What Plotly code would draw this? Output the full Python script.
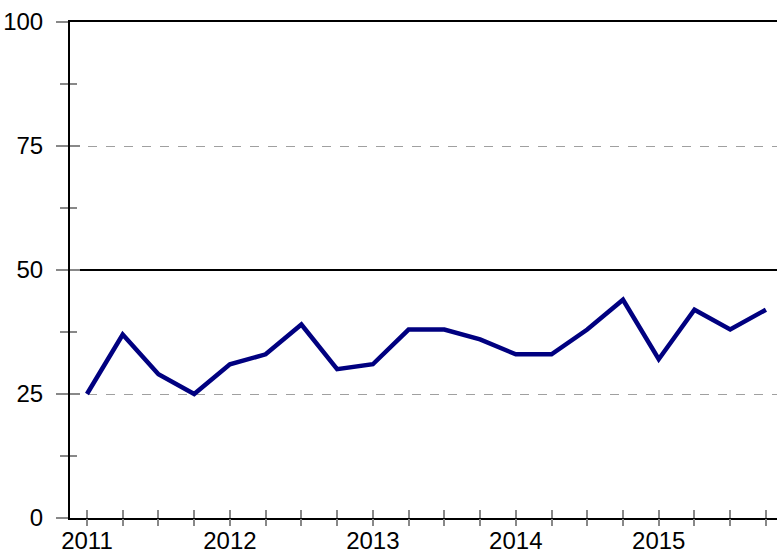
import plotly.graph_objects as go

quarters = list(range(20))
values = [25, 37, 29, 25, 31, 33, 39, 30, 31, 38, 38, 36, 33, 33, 38, 44, 32, 42, 38, 42]
year_labels = ["2011", "2012", "2013", "2014", "2015"]
tick_text = [year_labels[i // 4] if i % 4 == 0 else "" for i in quarters]

FONT = dict(family="Liberation Sans, Arial, sans-serif", size=24, color="black")
XR = [-0.475, 19.31]
YR = [0, 100]
TICKC = "#888888"

fig = go.Figure()
fig.add_trace(go.Scatter(x=quarters, y=values, mode="lines",
                         line=dict(color="#000080", width=4.5), xaxis="x", yaxis="y",
                         showlegend=False, hoverinfo="skip"))

fig.update_layout(
    width=777, height=556,
    margin=dict(l=70, r=0, t=22, b=38, autoexpand=False),
    plot_bgcolor="white", paper_bgcolor="white",
    font=FONT,
    xaxis=dict(range=XR, tickmode="array", tickvals=quarters, ticktext=tick_text,
               ticks="", showline=True, linecolor="black", linewidth=2, showgrid=False,
               zeroline=False, tickfont=FONT, automargin=False),
    xaxis2=dict(range=XR, overlaying="x", anchor="y", side="bottom",
                tickmode="array", tickvals=quarters, showticklabels=False,
                ticks="inside", ticklen=8, tickwidth=2, tickcolor=TICKC,
                showline=False, showgrid=False, zeroline=False, automargin=False),
    xaxis4=dict(range=XR, overlaying="x", anchor="y", side="bottom",
                tickmode="array", tickvals=quarters, showticklabels=False,
                ticks="outside", ticklen=7, tickwidth=2, tickcolor=TICKC,
                showline=False, showgrid=False, zeroline=False, automargin=False),
    xaxis3=dict(range=XR, overlaying="x", anchor="y", side="top",
                showticklabels=False, ticks="", showline=True, linecolor="black",
                linewidth=2, showgrid=False, zeroline=False, automargin=False),
    yaxis=dict(range=YR, tickmode="array", tickvals=[0, 25, 50, 75, 100],
               ticks="outside", ticklen=12, tickwidth=2, tickcolor=TICKC,
               minor=dict(tickmode="array", tickvals=[12.5, 37.5, 62.5, 87.5],
                          ticks="outside", ticklen=8, tickwidth=2, tickcolor=TICKC,
                          showgrid=False),
               showline=True, linecolor="black", linewidth=2,
               showgrid=True, gridcolor="#a0a0a0", griddash="dash", gridwidth=1,
               zeroline=False, tickfont=FONT, ticklabelstandoff=8, automargin=False),
    yaxis2=dict(range=YR, overlaying="y", anchor="x", side="left",
                tickmode="array", tickvals=[0, 25, 50, 75, 100], showticklabels=False,
                ticks="inside", ticklen=10, tickwidth=2, tickcolor=TICKC,
                minor=dict(tickmode="array", tickvals=[12.5, 37.5, 62.5, 87.5],
                           ticks="inside", ticklen=7, tickwidth=2, tickcolor=TICKC),
                showline=False, showgrid=False, zeroline=False, automargin=False),
    yaxis3=dict(range=YR, overlaying="y", anchor="x", side="left",
                tickmode="array", tickvals=[50], showticklabels=False, ticks="",
                showgrid=True, gridcolor="black", gridwidth=2, showline=False,
                zeroline=False, automargin=False),
)
fig.add_trace(go.Scatter(x=[None], y=[None], xaxis="x2", yaxis="y2", showlegend=False))
fig.add_trace(go.Scatter(x=[None], y=[None], xaxis="x3", yaxis="y3", showlegend=False))
fig.add_trace(go.Scatter(x=[None], y=[None], xaxis="x4", yaxis="y3", showlegend=False))

fig.write_html("out.html", config={"displayModeBar": False},
               post_script="document.body.style.margin='0';document.body.style.padding='0';")
